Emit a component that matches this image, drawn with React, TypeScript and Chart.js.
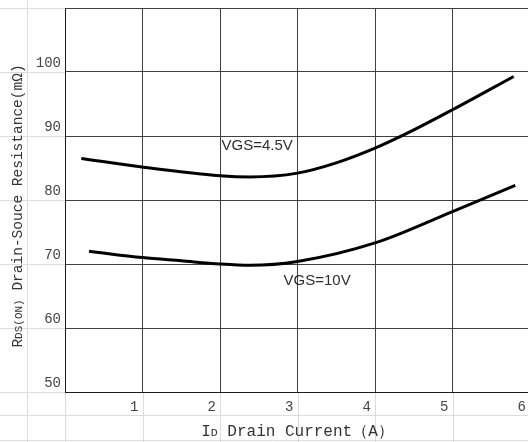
import React, { useEffect, useRef } from 'react';
import { Chart, registerables } from 'chart.js';

Chart.register(...registerables);

// Drain current (A) and Rds(on) (mΩ)
const idVgs45 = [0.21, 0.97, 2.0, 2.39, 3.0, 3.5, 4.0, 4.41, 5.0, 5.79];
const rdsVgs45 = [86.5, 85.2, 83.8, 83.6, 84.2, 85.8, 88.1, 90.4, 94.1, 99.3];
const idVgs10 = [0.31, 1.0, 1.5, 2.0, 2.39, 3.0, 4.0, 5.0, 5.81];
const rdsVgs10 = [72.0, 71.0, 70.5, 70.0, 69.8, 70.4, 73.3, 78.2, 82.3];

const xTickLabels = [1, 2, 3, 4, 5, 6];
const yTickLabels = [50, 60, 70, 80, 90, 100];
const seriesNames = ['VGS=4.5V', 'VGS=10V'];

const CANVAS_W = 545;
const CANVAS_H = 442;

const MONO = '"Liberation Mono", "DejaVu Sans Mono", monospace';

type Part = { t: string; s: number };

function drawParts(ctx: CanvasRenderingContext2D, parts: Part[], cx: number, baseline: number) {
  let total = 0;
  const widths = parts.map((p) => {
    ctx.font = `${p.s}px ${MONO}`;
    const w = ctx.measureText(p.t).width;
    total += w;
    return w;
  });
  let x = cx - total / 2;
  ctx.textAlign = 'left';
  ctx.textBaseline = 'alphabetic';
  parts.forEach((p, i) => {
    ctx.font = `${p.s}px ${MONO}`;
    ctx.fillText(p.t, x, baseline);
    x += widths[i];
  });
}

const sheetPlugin = {
  id: 'sheetBackground',
  beforeDraw(chart: any) {
    const { ctx, chartArea, scales } = chart;
    ctx.save();
    ctx.fillStyle = '#ffffff';
    ctx.fillRect(0, 0, chart.width, chart.height);
    ctx.strokeStyle = '#dcdcdc';
    ctx.lineWidth = 1;
    ctx.beginPath();
    for (let v = 50; v <= 110; v += 10) {
      const y = Math.round(scales.y.getPixelForValue(v)) + 0.5;
      ctx.moveTo(0, y);
      ctx.lineTo(chartArea.left, y);
    }
    [415.5, 440.5].forEach((y) => {
      ctx.moveTo(0, y);
      ctx.lineTo(chart.width, y);
    });
    ctx.moveTo(27.5, 0);
    ctx.lineTo(27.5, chart.height);
    for (let v = 0; v <= 6; v += 1) {
      const x = Math.round(scales.x.getPixelForValue(v)) + 0.5;
      ctx.moveTo(x, chartArea.bottom);
      ctx.lineTo(x, chart.height);
    }
    ctx.stroke();
    ctx.restore();
  },
  afterDraw(chart: any) {
    const { ctx, chartArea, scales } = chart;
    ctx.save();
    ctx.fillStyle = '#333333';
    drawParts(
      ctx,
      [
        { t: 'I', s: 16 },
        { t: 'D', s: 11.5 },
        { t: ' Drain Current（A）', s: 16 },
      ],
      (chartArea.left + chartArea.right) / 2,
      436
    );
    ctx.translate(22, (chartArea.top + chartArea.bottom) / 2 + 6);
    ctx.rotate(-Math.PI / 2);
    drawParts(
      ctx,
      [
        { t: 'R', s: 14.5 },
        { t: 'DS(ON)', s: 11 },
        { t: ' Drain-Souce Resistance(mΩ)', s: 14.5 },
      ],
      0,
      0
    );
    ctx.restore();

    ctx.save();
    ctx.fillStyle = '#2e2e2e';
    ctx.font = '15px "Liberation Sans", Arial, sans-serif';
    ctx.textAlign = 'left';
    ctx.textBaseline = 'middle';
    ctx.fillText(seriesNames[0], scales.x.getPixelForValue(2.02), scales.y.getPixelForValue(88.4));
    ctx.fillText(seriesNames[1], scales.x.getPixelForValue(2.82), scales.y.getPixelForValue(67.4));
    ctx.restore();
  },
};

export default function App() {
  const ref = useRef<HTMLCanvasElement | null>(null);

  useEffect(() => {
    if (!ref.current) return;
    const chart = new Chart(ref.current, {
      type: 'line',
      data: {
        datasets: [
          {
            label: seriesNames[0],
            data: idVgs45.map((x, i) => ({ x, y: rdsVgs45[i] })),
            borderColor: '#000000',
            borderWidth: 3,
            pointRadius: 0,
            cubicInterpolationMode: 'monotone',
            fill: false,
          },
          {
            label: seriesNames[1],
            data: idVgs10.map((x, i) => ({ x, y: rdsVgs10[i] })),
            borderColor: '#000000',
            borderWidth: 3,
            pointRadius: 0,
            cubicInterpolationMode: 'monotone',
            fill: false,
          },
        ],
      },
      options: {
        responsive: false,
        animation: false,
        devicePixelRatio: 1,
        layout: { padding: { left: 0, right: CANVAS_W - 530, top: 8, bottom: 0 } },
        plugins: {
          legend: { display: false },
          tooltip: { enabled: false },
          title: { display: false },
        },
        scales: {
          x: {
            type: 'linear',
            min: 0,
            max: 6,
            afterFit: (s: any) => {
              s.height = 50;
              s.paddingLeft = 0;
              s.paddingRight = 0;
            },
            grid: { color: '#404040', lineWidth: 1, drawTicks: false },
            border: { display: true, color: '#1a1a1a', width: 1 },
            ticks: {
              stepSize: 1,
              align: 'end',
              labelOffset: -4,
              padding: 7,
              color: '#444444',
              font: { family: MONO, size: 14 },
              callback: (v: any) => (xTickLabels.includes(Number(v)) ? String(v) : ''),
            },
          },
          y: {
            type: 'linear',
            min: 50,
            max: 110,
            afterFit: (s: any) => {
              s.width = 65;
              s.paddingTop = 0;
              s.paddingBottom = 0;
            },
            grid: { color: '#404040', lineWidth: 1, drawTicks: false },
            border: { display: true, color: '#1a1a1a', width: 1 },
            ticks: {
              stepSize: 10,
              labelOffset: -9,
              padding: 4,
              color: '#444444',
              font: { family: MONO, size: 14 },
              callback: (v: any) => (yTickLabels.includes(Number(v)) ? String(v) : ''),
            },
          },
        },
      },
      plugins: [sheetPlugin],
    } as any);
    return () => chart.destroy();
  }, []);

  return (
    <div
      style={{
        position: 'fixed',
        left: 0,
        top: 0,
        width: 528,
        height: 442,
        overflow: 'hidden',
        background: '#ffffff',
      }}
    >
      <canvas
        ref={ref}
        width={CANVAS_W}
        height={CANVAS_H}
        style={{ display: 'block', width: CANVAS_W, height: CANVAS_H }}
      />
    </div>
  );
}
